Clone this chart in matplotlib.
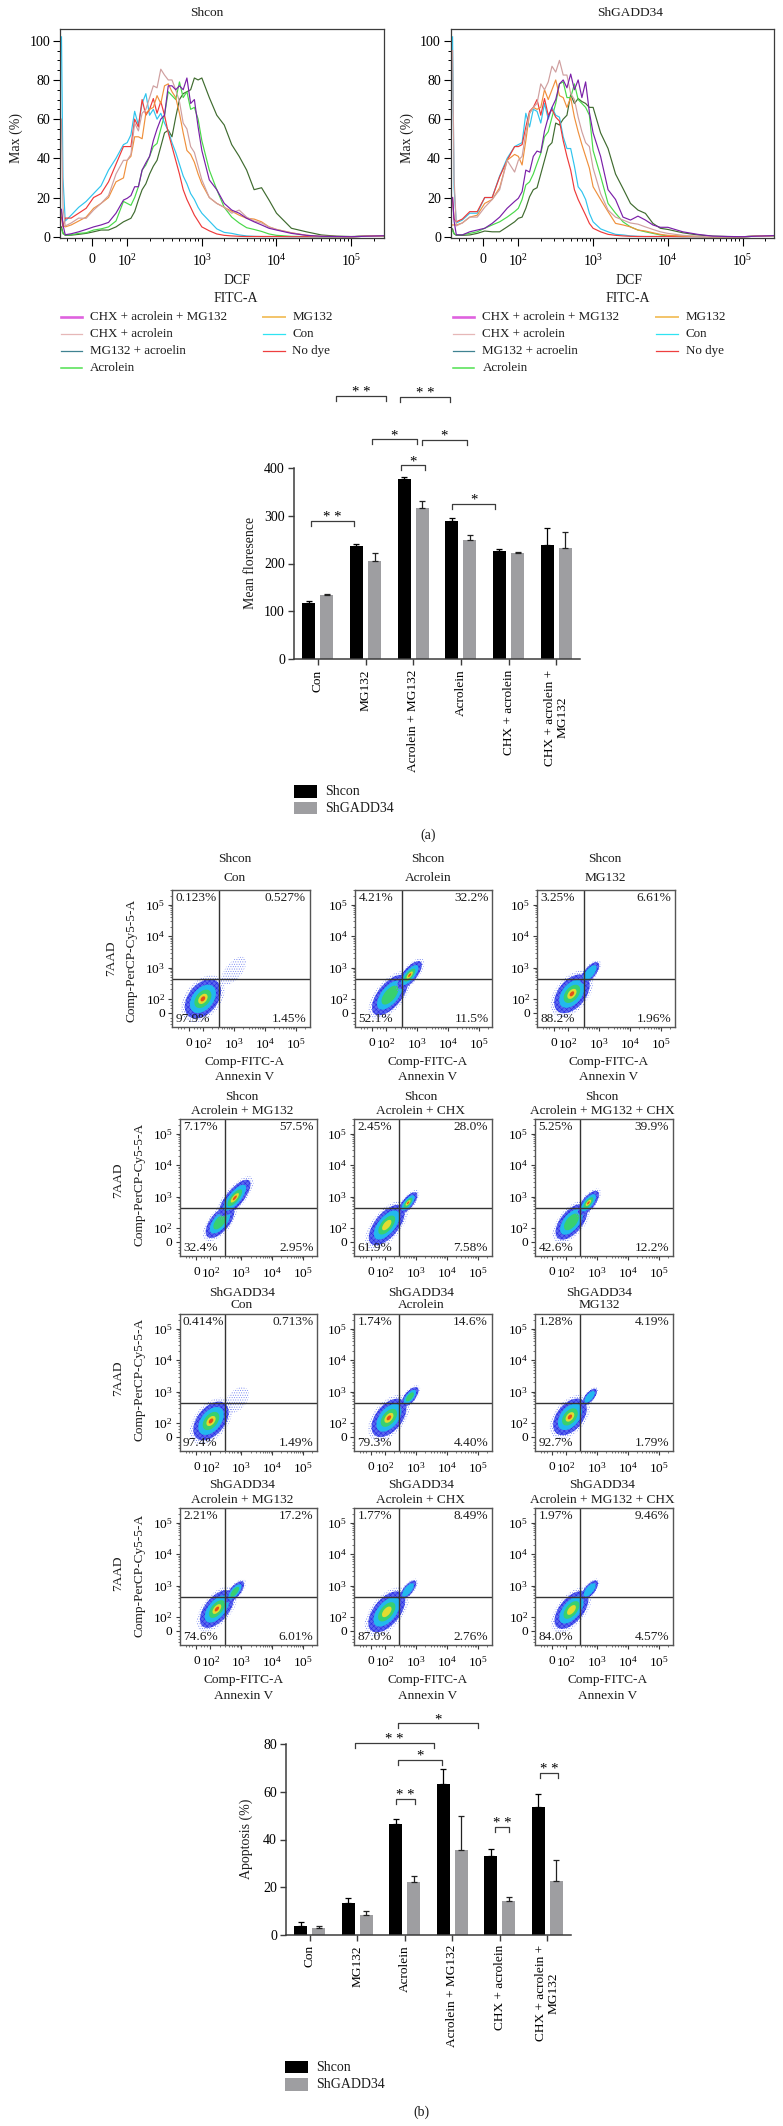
import numpy as np
import matplotlib
matplotlib.use('Agg')
import matplotlib.pyplot as plt
from matplotlib.lines import Line2D
from matplotlib.patches import Ellipse, Rectangle

plt.rcParams['font.family'] = ['Liberation Serif', 'DejaVu Serif']
plt.rcParams['mathtext.fontset'] = 'custom'
plt.rcParams['mathtext.rm'] = 'Liberation Serif'
plt.rcParams['hatch.linewidth'] = 0.4

W, H = 783, 2126
FS = 9.6
DARK = '#3c3c3c'

# histogram channels, decades of FITC-A
hist_x = [1.12, 1.14, 1.17, 1.25, 1.35, 1.45, 1.55, 1.65, 1.75, 1.85, 1.95,
          2.0, 2.05, 2.1, 2.15, 2.2, 2.25, 2.3, 2.35, 2.4, 2.45, 2.5, 2.55, 2.6, 2.65, 2.7,
          2.75, 2.8, 2.85, 2.9, 2.95, 3.0,
          3.1, 3.2, 3.3, 3.4, 3.5, 3.6, 3.7, 3.8, 3.9, 4.0,
          4.2, 4.4, 4.6, 4.8, 5.0, 5.44]

con_l = [102, 30, 8, 11, 15, 18, 22, 26, 34, 40, 47,
         48, 52, 64, 57, 68, 73, 62, 65, 60, 63, 58, 54, 48, 43, 37, 31, 27, 22, 19, 15, 12,
         8, 4, 2.2, 1.7, .9, .4, .2, .1, .1, .1, 0, 0, 0, 0, 0, .5]
nodye_l = [10, 5, 9.5, 9.5, 12, 14.5, 20, 22, 28, 37, 46,
           46, 46, 60, 56, 70, 62, 65, 70.5, 63, 69, 62, 53, 46, 39, 32, 24, 19, 15, 11, 8, 5,
           3, 1.4, .7, .4, .2, .1, .1, .1, .1, .1, 0, 0, 0, 0, 0, .5]
mg_l = [13, 6, 5, 6, 8, 10, 14.5, 17, 20, 28, 30,
        39, 41, 51, 51, 50, 63, 65, 66, 72, 68, 77, 78, 74, 71, 63, 53, 44, 42, 38, 32, 27,
        20, 17, 15, 13, 11, 9.4, 9, 7.6, 5, 3.7, 2, .7, .2, .1, 0, .5]
chx_l = [60, 15, 5.5, 7, 9.5, 9.4, 13.6, 17, 21, 32, 39,
         39, 42, 58, 54, 63, 65, 71, 77, 76, 85.5, 82.5, 80, 80, 75, 69, 58, 55, 46, 43, 36, 29,
         20, 17, 15, 12, 13.6, 10, 8, 7, 5, 3.7, 2, .7, .2, .1, 0, .5]
acr_l = [4, 1.5, .9, 1, 1.7, 2, 3.4, 4, 5, 8, 18,
         17, 16, 20, 25.5, 34, 36.6, 41, 46, 47.6, 55, 62, 74, 72, 70, 79, 71, 74, 65, 66, 60, 49,
         34, 24, 15, 10, 7, 4.6, 3.7, 2.7, 1.4, .7, .2, .1, 0, 0, 0, .5]
cam_l = [14, 6, 1, 1.5, 2.5, 3.7, 5, 6, 7.3, 12, 18.7,
         19.6, 21, 25.5, 25.5, 34, 37.7, 41, 49, 55, 60, 62, 77, 77, 75, 77, 75, 81, 68, 70, 56, 44,
         29, 24, 17, 13.6, 12, 9.4, 7.6, 6, 4.3, 3.4, 1.7, .7, .2, .1, 0, .5]
ma_l = [5, 2, .7, .8, 1.2, 1.7, 2.5, 3.4, 3.4, 5, 7.6,
        8.5, 9.4, 12.8, 18.7, 24, 27, 32, 36, 39, 46, 53, 54.4, 51, 61, 70, 73, 74, 75, 81, 80, 81,
        71, 62, 57, 47, 41, 34, 24, 25, 18.7, 12, 4.3, 2.5, .9, .3, .1, .5]

con_r = [102, 25, 7, 8.5, 12, 12, 20, 20, 31, 40, 46,
         47, 48, 63, 56, 65, 64, 58, 68, 60, 66, 62, 61, 51, 45, 45, 36, 25.5, 23, 19, 12, 7.6,
         4, 2.5, 1.2, .9, .4, .2, .1, .1, .1, .1, 0, 0, 0, 0, 0, .6]
nodye_r = [20, 9, 7.6, 9, 12.8, 12.8, 20, 20, 30.6, 39, 46,
           46, 47, 56, 64, 66, 70, 62, 70.5, 62, 65, 61, 59, 49, 41, 34, 24, 19, 15, 11, 6.8, 4.3,
           2.5, 1.2, .7, .4, .2, .1, .1, .1, .1, .1, 0, 0, 0, 0, 0, .6]
mg_r = [6, 6, 6, 7, 10, 11, 17, 19, 25, 39, 42,
        41, 36.6, 49, 63, 66, 65, 66, 75, 70, 75, 80, 72, 71, 66, 71, 61, 53.6, 47, 41, 35, 25.5,
        19, 12.8, 6.8, 6, 5, 3.4, 2.9, 2, 1.2, .7, .3, .1, 0, 0, 0, .6]
chx_r = [95, 30, 5.5, 7, 10, 10, 15, 19, 24, 39, 33,
         39, 41, 53, 63, 66, 68, 78, 75, 79, 87, 84, 90, 82.5, 82.5, 73, 70, 61, 53.6, 48, 46, 35,
         22, 13.6, 10, 8.5, 7, 6.4, 5, 3.7, 2.5, 1.7, .7, .2, 0, 0, 0, .6]
acr_r = [3, 1.5, .9, 1, 1.7, 2.5, 4.3, 6, 7.6, 10, 12.8,
         14.5, 19, 26.4, 28, 32, 37.4, 42.5, 51, 53.6, 61, 68, 78, 79, 71, 71, 78, 70, 68, 66, 62, 44,
         31, 17, 12, 7.6, 5, 3.4, 2.5, 1.7, .9, .4, .2, .1, 0, 0, 0, .6]
cam_r = [20, 8, 1, .9, 2.5, 3.4, 4.3, 6.8, 10, 14.5, 18,
         19.6, 23, 34, 33, 41, 43.7, 43, 54, 61, 66, 70, 78, 80, 76, 83, 75, 80, 71, 79, 63.5, 53,
         41, 24, 19, 10, 8.5, 10.5, 8.5, 6, 4.8, 4.8, 2.5, 1.2, .3, .1, 0, .6]
ma_r = [4, 1.5, .7, .7, .9, 1.7, 2.9, 2.5, 2.5, 5, 7.6,
        9.4, 10, 14.5, 20.4, 24, 25, 32, 39, 46, 48, 58, 57, 60, 62, 72.5, 68, 70.5, 69, 68, 66, 66,
        53, 45, 32, 24.6, 17, 13.6, 11.9, 6.8, 4.3, 3.7, 2, .9, .3, .1, 0, .6]

curve_colors = ['#3f6b2f', '#48d848', '#2fc4ee', '#ee3a3a', '#f0903c', '#cf9f9f', '#7a1fa8']
left_curves = [ma_l, acr_l, con_l, nodye_l, mg_l, chx_l, cam_l]
right_curves = [ma_r, acr_r, con_r, nodye_r, mg_r, chx_r, cam_r]

legend_col1 = ['CHX + acrolein + MG132', 'CHX + acrolein', 'MG132 + acroelin', 'Acrolein']
legend_col1_colors = ['#df62df', '#e6b7b7', '#3f8291', '#4fe04f']
legend_col2 = ['MG132', 'Con', 'No dye']
legend_col2_colors = ['#f3c469', '#2fe3f2', '#ee3f3f']

# bar charts
cats_a = ['Con', 'MG132', 'Acrolein + MG132', 'Acrolein', 'CHX + acrolein', 'CHX + acrolein +\nMG132']
shcon_a = [118, 237, 378, 289, 227, 239]
shcon_a_err = [3, 3, 4, 7, 4, 35]
shgadd_a = [134, 206, 316, 250, 222, 232]
shgadd_a_err = [2, 17, 14, 9, 3, 35]

cats_b = ['Con', 'MG132', 'Acrolein', 'Acrolein + MG132', 'CHX + acrolein', 'CHX + acrolein +\nMG132']
shcon_b = [3.5, 13.3, 46.7, 63.5, 33.2, 53.6]
shcon_b_err = [2, 2, 1.8, 6, 2.7, 5.5]
shgadd_b = [3, 8.3, 22.3, 35.5, 14.2, 22.5]
shgadd_b_err = [.8, 1.5, 2.2, 14.2, 1.5, 9]

# brackets: x0, x1, height, stars
brackets_a = [(.39, 1.43, 551, '* *'), (1.73, 2.77, 548, '* *'), (1.14, 2.07, 460, '*'),
              (2.18, 3.12, 459, '*'), (1.74, 2.25, 406, '*'), (2.82, 3.72, 325, '*'),
              (-.15, .76, 290, '* *')]
brackets_b = [(1.85, 3.54, 88.8, '*'), (.95, 2.62, 80.7, '* *'), (1.85, 2.78, 73.4, '*'),
              (1.81, 2.22, 57.1, '* *'), (3.89, 4.2, 45.4, '* *'), (4.85, 5.22, 68, '* *')]

# flow panels, row by row
flow_top = ['Shcon'] * 6 + ['ShGADD34'] * 6
flow_sub = ['Con', 'Acrolein', 'MG132', 'Acrolein + MG132', 'Acrolein + CHX', 'Acrolein + MG132 + CHX'] * 2
flow_pct = [('0.123%', '0.527%', '97.9%', '1.45%'), ('4.21%', '32.2%', '52.1%', '11.5%'),
            ('3.25%', '6.61%', '88.2%', '1.96%'), ('7.17%', '57.5%', '32.4%', '2.95%'),
            ('2.45%', '28.0%', '61.9%', '7.58%'), ('5.25%', '39.9%', '42.6%', '12.2%'),
            ('0.414%', '0.713%', '97.4%', '1.49%'), ('1.74%', '14.6%', '79.3%', '4.40%'),
            ('1.28%', '4.19%', '92.7%', '1.79%'), ('2.21%', '17.2%', '74.6%', '6.01%'),
            ('1.77%', '8.49%', '87.0%', '2.76%'), ('1.97%', '9.46%', '84.0%', '4.57%')]
# populations: centre x, centre y, long radius, short radius, hottest density level
flow_pops = [
    [(2.0, 2.0, .72, .47, 4), (3.0, 2.9, .45, .22, -1)],
    [(2.13, 2.12, .78, .38, 2), (2.77, 2.76, .55, .22, 4)],
    [(2.13, 2.16, .72, .44, 4), (2.71, 2.83, .42, .18, 1)],
    [(2.31, 2.19, .62, .3, 2), (2.79, 2.96, .72, .27, 4)],
    [(2.06, 2.09, .78, .38, 3), (2.75, 2.8, .42, .17, 4)],
    [(2.18, 2.19, .68, .35, 2), (2.73, 2.8, .47, .2, 4)],
    [(2.02, 2.06, .72, .44, 4), (2.86, 2.73, .4, .25, -1)],
    [(2.13, 2.16, .72, .42, 4), (2.81, 2.83, .38, .17, 2)],
    [(2.13, 2.19, .68, .42, 4), (2.77, 2.83, .32, .14, 1)],
    [(2.21, 2.25, .72, .38, 4), (2.79, 2.8, .42, .17, 2)],
    [(2.06, 2.16, .78, .42, 3), (2.75, 2.86, .37, .15, 1)],
    [(2.18, 2.22, .72, .38, 3), (2.77, 2.86, .37, .16, 1)],
]
density_colors = ['#2a2ae6', '#22b8ee', '#38d070', '#e2dc30', '#e2501a']
density_sizes = [1.0, .72, .47, .26, .13]


def box(l, t, r, b):
    return fig.add_axes([l / W, 1 - b / H, (r - l) / W, (b - t) / H])


def txt(x, y, s, size=FS, rot=0, ha='center'):
    fig.text(x / W, 1 - y / H, s, ha=ha, va='center', fontsize=size, rotation=rot, color='#1c1c1c')


def dec(k):
    return r'$\mathdefault{10^{%d}}$' % k


def log_minor(first, last):
    out = [1.2, 1.3, 1.4, 1.7, 1.8, 1.9]
    for k in range(first, last):
        out += [k + np.log10(m) for m in range(2, 10)]
    return out


def draw_hist(l, r, curves, xlim, legend_x, title_x, dcf_x, ylabel_x, title):
    ax = box(l, 29, r, 238)
    for c, col in zip(curves, curve_colors):
        ax.plot(hist_x, c, color=col, lw=.85)
    ax.set_xticks([1.53, 2, 3, 4, 5])
    ax.set_xticklabels(['0', dec(2), dec(3), dec(4), dec(5)], fontsize=FS + .4)
    ax.set_xticks(log_minor(2, 6), minor=True)
    ax.set_yticks(range(0, 101, 20))
    ax.set_yticks(range(0, 101, 5), minor=True)
    ax.set_xlim(*xlim)
    ax.set_ylim(-.66, 106)
    ax.tick_params(axis='x', which='major', length=6, width=.8, pad=5)
    ax.tick_params(axis='x', which='minor', length=2.5, width=.7)
    ax.tick_params(axis='y', which='major', length=5, width=.8, labelsize=FS + .4, pad=2)
    ax.tick_params(axis='y', which='minor', length=2.5, width=.7)
    for s in ax.spines.values():
        s.set_linewidth(.9)
        s.set_color(DARK)
    txt(title_x, 13, title)
    txt(dcf_x, 281, 'DCF', FS + .4)
    txt(dcf_x - 1, 298, 'FITC-A', FS + .4)
    txt(ylabel_x, 138, 'Max (%)', FS + .4, rot=90)
    ys = [317.3, 334, 351, 367.7]
    for lab, col, y, lw in zip(legend_col1, legend_col1_colors, ys, [1.9, .9, .9, 1.1]):
        fig.add_artist(Line2D([legend_x[0] / W, (legend_x[0] + 21) / W], [1 - y / H] * 2, color=col, lw=lw))
        txt(legend_x[0] + 29.5, y, lab, 9.4, ha='left')
    for lab, col, y, lw in zip(legend_col2, legend_col2_colors, ys, [1.4, .9, .9]):
        fig.add_artist(Line2D([legend_x[1] / W, (legend_x[1] + 22) / W], [1 - y / H] * 2, color=col, lw=lw))
        txt(legend_x[1] + 29.5, y, lab, 9.4, ha='left')


def draw_flow(l, t, idx, gate_x):
    r, b = l + 137.5, t + 137
    ax = box(l, t, r, b)
    for cx, cy, a, bb, peak in flow_pops[idx]:
        # sparse events around each population
        ax.add_patch(Ellipse((cx, cy), 2.4 * a, 2.4 * bb, angle=50, fill=False, hatch='.......',
                             edgecolor='#7484f0', lw=0))
        for k in range(peak + 1):
            if k == 0:
                ax.add_patch(Ellipse((cx, cy), 2 * a, 2 * bb, angle=50, facecolor='#5a68ee',
                                     hatch='xxxxxxx', edgecolor=density_colors[0], lw=0))
            else:
                ax.add_patch(Ellipse((cx, cy), 2 * a * density_sizes[k], 2 * bb * density_sizes[k],
                                     angle=50, color=density_colors[k], lw=0))
    ax.axvline(gate_x, color='#333333', lw=1)
    ax.axhline(2.64, color='#333333', lw=1)
    ax.set_xticks([1.55, 2, 3, 4, 5])
    ax.set_xticklabels(['0', dec(2), dec(3), dec(4), dec(5)], fontsize=FS)
    ax.set_xticks(log_minor(2, 6), minor=True)
    ax.set_yticks([1.55, 2, 3, 4, 5])
    ax.set_yticklabels(['0', dec(2), dec(3), dec(4), dec(5)], fontsize=FS)
    ax.set_yticks(log_minor(2, 6), minor=True)
    ax.set_xlim(1, 5.45)
    ax.set_ylim(1.1, 5.48)
    ax.tick_params(which='major', length=3, width=.8, pad=4, color=DARK)
    ax.tick_params(axis='y', which='major', pad=2)
    ax.tick_params(which='minor', length=1.5, width=.5, color=DARK)
    for s in ax.spines.values():
        s.set_linewidth(1)
        s.set_color('#555555')
    tl, tr, bl, br = flow_pct[idx]
    ax.text(.025, .94, tl, transform=ax.transAxes, fontsize=FS, ha='left', va='center', color='#1c1c1c')
    ax.text(.975, .94, tr, transform=ax.transAxes, fontsize=FS, ha='right', va='center', color='#1c1c1c')
    ax.text(.025, .06, bl, transform=ax.transAxes, fontsize=FS, ha='left', va='center', color='#1c1c1c')
    ax.text(.975, .06, br, transform=ax.transAxes, fontsize=FS, ha='right', va='center', color='#1c1c1c')


def draw_bars(rect, cats, s1, e1, s2, e2, ymax, ystep, ylabel, ylabel_xy, brackets, leg):
    ax = box(*rect)
    x = np.arange(len(cats))
    ax.bar(x - .19, s1, .27, color='black', yerr=[np.zeros(6), e1], capsize=2.2,
           error_kw={'lw': .9, 'capthick': .9, 'ecolor': 'black'})
    ax.bar(x + .19, s2, .27, color='#9e9ea1', yerr=[np.zeros(6), e2], capsize=2.2,
           error_kw={'lw': .9, 'capthick': .9, 'ecolor': '#222222'})
    ax.set_xlim(-.5, 5.5)
    ax.set_ylim(0, ymax)
    ax.set_xticks(x)
    ax.set_xticklabels(cats, rotation=90, fontsize=FS, ma='center', linespacing=1.05)
    ax.set_yticks(np.arange(0, ymax + 1, ystep))
    ax.tick_params(axis='x', length=4.5, width=1, pad=3, color=DARK)
    ax.tick_params(axis='y', length=4.5, width=1, pad=2, labelsize=FS + .4, color=DARK)
    ax.spines['top'].set_visible(False)
    ax.spines['right'].set_visible(False)
    ax.spines['left'].set_linewidth(1.1)
    ax.spines['bottom'].set_linewidth(1.1)
    ax.spines['left'].set_color(DARK)
    ax.spines['bottom'].set_color(DARK)
    txt(ylabel_xy[0], ylabel_xy[1], ylabel, FS + .4, rot=90)
    drop = ymax * 5.0 / (rect[3] - rect[1])
    for x0, x1, y, stars in brackets:
        ax.plot([x0, x0, x1, x1], [y - drop, y, y, y - drop], color=DARK, lw=.9, clip_on=False)
        ax.text((x0 + x1) / 2, y, stars, ha='center', va='baseline', fontsize=FS + 1, clip_on=False)
    for y0, col, lab in [(leg[2], 'black', 'Shcon'), (leg[3], '#9e9ea1', 'ShGADD34')]:
        fig.add_artist(Rectangle((leg[0] / W, 1 - (y0 + 12.7) / H), 23 / W, 12.7 / H, color=col, lw=0))
        txt(leg[1], y0 + 6.5, lab, FS + .4, ha='left')


fig = plt.figure(figsize=(W / 100, H / 100), dpi=100, facecolor='white')

draw_hist(60, 384, left_curves, (1.10, 5.44), (60.7, 263), 207, 237, 16, 'Shcon')
draw_hist(450.7, 774, right_curves, (1.095, 5.42), (453, 656), 630, 629, 407, 'ShGADD34')

draw_bars((294, 468, 580, 659), cats_a, shcon_a, shcon_a_err, shgadd_a, shgadd_a_err, 400, 100,
          'Mean floresence', (251, 563), brackets_a, (294, 324.7, 785, 801.7))
txt(428, 835, '(a)', FS + .4)

flow_left = [[172, 355, 537], [179.5, 354, 535], [179.5, 354, 535], [179.5, 354, 535]]
flow_tops = [890, 1119, 1314, 1508]
flow_gate = [2.52, 2.47, 2.47, 2.47]
title_x = [[235, 428, 605], [242, 421, 602], [242, 421, 599], [242, 421, 602]]
title_y = [(859, 878), (1097, 1111), (1293, 1305), (1485, 1500)]
ylab_x = [(111, 131), (118, 139), (118, 139), (118, 139)]
ylab_y = [(958, 960), (1180, 1184), (1378, 1379), (1573, 1575)]
for i in range(4):
    for j in range(3):
        idx = i * 3 + j
        draw_flow(flow_left[i][j], flow_tops[i], idx, flow_gate[i])
        txt(title_x[i][j], title_y[i][0], flow_top[idx])
        txt(title_x[i][j], title_y[i][1], flow_sub[idx])
    txt(ylab_x[i][0], ylab_y[i][0], '7AAD', rot=90)
    txt(ylab_x[i][1], ylab_y[i][1], 'Comp-PerCP-Cy5-5-A', rot=90)
for x in [245, 428, 609]:
    txt(x, 1062, 'Comp-FITC-A')
    txt(x, 1077, 'Annexin V')
for x in [244, 427.5, 608]:
    txt(x, 1680, 'Comp-FITC-A')
    txt(x, 1696, 'Annexin V')

draw_bars((286, 1744.3, 571, 1934.7), cats_b, shcon_b, shcon_b_err, shgadd_b, shgadd_b_err, 80, 20,
          'Apoptosis (%)', (246, 1839), brackets_b, (285.3, 316, 2060.7, 2078.3))
txt(421.7, 2112, '(b)', FS + .4)

fig.savefig('out.png', dpi=100, facecolor='white')
